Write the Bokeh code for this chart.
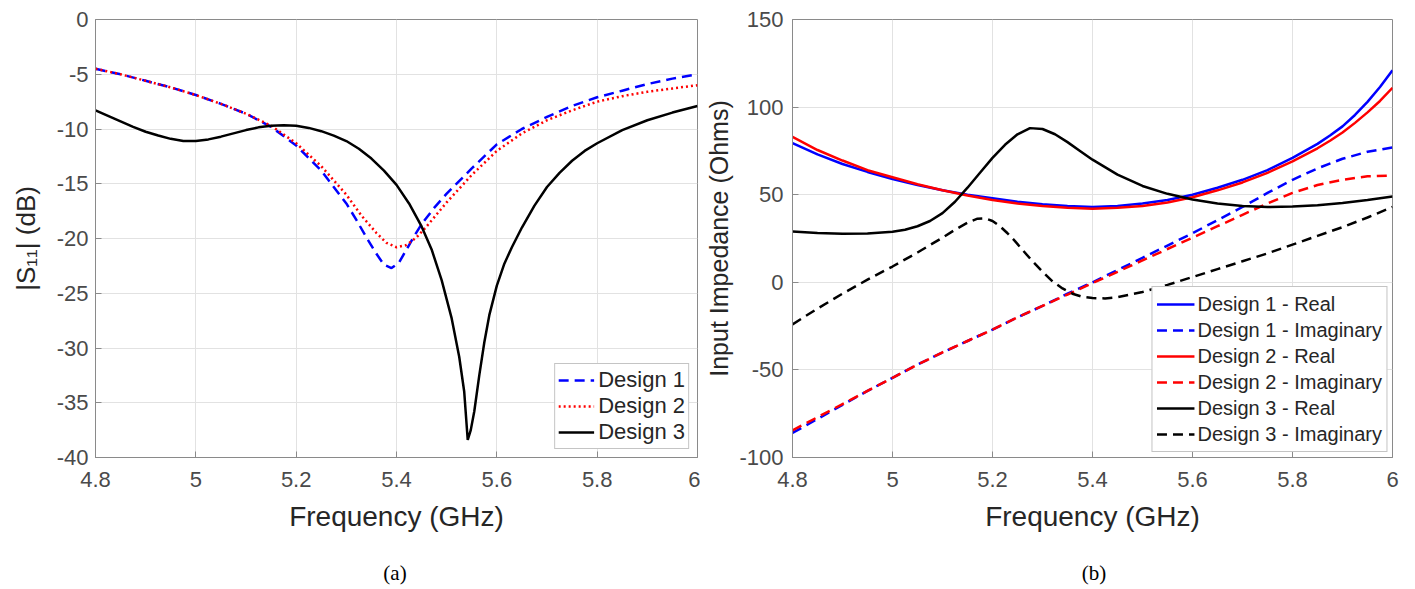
from bokeh.plotting import figure
from bokeh.models import Range1d, Legend, LegendItem, FixedTicker, CustomJSTickFormatter, Div
from bokeh.layouts import row, column
from bokeh.embed import file_html
from bokeh.resources import INLINE

# ---------------- data: (a) |S11| ----------------
s11_d1_f = [4.8, 4.85, 4.9, 4.95, 5.0, 5.05, 5.1, 5.15, 5.2, 5.25, 5.3, 5.32, 5.34, 5.36, 5.375, 5.39,
            5.405, 5.42, 5.435, 5.45, 5.475, 5.5, 5.55, 5.6, 5.65, 5.7, 5.75, 5.8, 5.85, 5.9, 5.95, 6.0]
s11_d1 = [-4.5, -5.0, -5.6, -6.2, -6.9, -7.7, -8.6, -9.8, -11.5, -13.8, -16.8, -18.3, -19.9, -21.4, -22.4, -22.7,
          -22.2, -21.0, -19.8, -18.7, -17.2, -15.9, -13.6, -11.4, -10.0, -8.9, -7.9, -7.1, -6.5, -5.9, -5.4, -5.0]

s11_d2_f = [4.8, 4.85, 4.9, 4.95, 5.0, 5.05, 5.1, 5.15, 5.2, 5.25, 5.3, 5.33, 5.36, 5.38, 5.4, 5.42,
            5.44, 5.46, 5.48, 5.5, 5.55, 5.6, 5.65, 5.7, 5.75, 5.8, 5.85, 5.9, 5.95, 6.0]
s11_d2 = [-4.5, -5.0, -5.6, -6.2, -6.9, -7.7, -8.6, -9.7, -11.3, -13.4, -16.0, -17.9, -19.5, -20.4, -20.8, -20.6,
          -19.9, -18.9, -17.8, -16.7, -14.2, -12.0, -10.4, -9.2, -8.3, -7.5, -7.0, -6.6, -6.3, -6.0]

s11_d3_f = [4.8, 4.825, 4.85, 4.875, 4.9, 4.925, 4.95, 4.975, 5.0, 5.025, 5.05, 5.075, 5.1, 5.125, 5.15,
            5.175, 5.2, 5.225, 5.25, 5.275, 5.3, 5.325, 5.35, 5.375, 5.4, 5.425, 5.45, 5.47, 5.49, 5.51,
            5.525, 5.535, 5.542, 5.548, 5.555, 5.565, 5.575, 5.585, 5.6, 5.615, 5.63, 5.65, 5.675, 5.7,
            5.725, 5.75, 5.775, 5.8, 5.85, 5.9, 5.95, 6.0]
s11_d3 = [-8.3, -8.8, -9.3, -9.8, -10.25, -10.6, -10.9, -11.1, -11.1, -10.95, -10.7, -10.4, -10.1, -9.85, -9.7,
          -9.65, -9.7, -9.9, -10.2, -10.6, -11.1, -11.8, -12.7, -13.8, -15.1, -16.8, -18.9, -21.0, -23.8, -27.3,
          -30.8, -34.0, -38.4, -37.5, -35.8, -32.5, -29.5, -27.0, -24.3, -22.3, -20.8, -19.0, -17.0, -15.3,
          -14.0, -12.9, -12.0, -11.3, -10.1, -9.2, -8.5, -7.9]

# ---------------- data: (b) input impedance ----------------
z_real_f = [4.8, 4.85, 4.9, 4.95, 5.0, 5.05, 5.1, 5.15, 5.2, 5.25, 5.3, 5.35, 5.4, 5.45, 5.5, 5.55,
            5.6, 5.65, 5.7, 5.75, 5.8, 5.85, 5.875, 5.9, 5.925, 5.95, 5.975, 6.0]
z_d1_real = [79.5, 73, 67.5, 63, 59, 55.5, 52.5, 50, 48, 46, 44.5, 43.5, 43, 43.5, 45, 47,
             50, 54, 58.5, 64, 71, 79, 83.8, 89, 95.5, 103, 111.5, 121]
z_d2_real = [83, 75.5, 69.5, 64, 60, 56, 52.5, 49.5, 47, 45, 43.5, 42.5, 42, 42.5, 43.5, 45.5,
             48.5, 52.5, 57, 62.5, 69, 76.5, 80.8, 85.5, 91, 97, 103.5, 111]

z_imag_f = [4.8, 4.85, 4.9, 4.95, 5.0, 5.05, 5.1, 5.15, 5.2, 5.25, 5.3, 5.35, 5.4, 5.45, 5.5, 5.55,
            5.6, 5.65, 5.7, 5.75, 5.8, 5.85, 5.9, 5.95, 6.0]
z_d1_imag = [-86, -78, -70, -62, -54.5, -47, -40, -33.5, -27, -20, -13.5, -6.5, 0, 7, 14, 21,
             28, 35.5, 43, 51, 58.5, 65, 70.5, 74.5, 77]
z_d2_imag = [-84.5, -77, -69.5, -62, -54.5, -47, -40, -33.5, -27, -20, -13.5, -7, -0.5, 6, 12.5, 19,
             25.5, 32, 38.5, 45, 51, 55.5, 58.5, 60.5, 61]

z_d3_real_f = [4.8, 4.85, 4.9, 4.95, 5.0, 5.025, 5.05, 5.075, 5.1, 5.125, 5.15, 5.175, 5.2, 5.225, 5.25,
               5.275, 5.3, 5.325, 5.35, 5.375, 5.4, 5.45, 5.5, 5.55, 5.6, 5.65, 5.7, 5.75, 5.8, 5.85,
               5.9, 5.95, 6.0]
z_d3_real = [29, 28.2, 27.7, 27.8, 28.8, 30, 32, 35, 39.5, 46, 54, 62.5, 71, 78.5, 84.5,
             88, 87.5, 84.5, 80, 75, 70, 61.5, 55, 50.5, 47.3, 45, 43.6, 43, 43.2, 44,
             45.2, 47, 49]
z_d3_imag_f = [4.8, 4.85, 4.9, 4.95, 5.0, 5.05, 5.1, 5.125, 5.15, 5.17, 5.185, 5.2, 5.215, 5.23, 5.245,
               5.26, 5.28, 5.3, 5.32, 5.34, 5.36, 5.38, 5.4, 5.425, 5.45, 5.5, 5.55, 5.6, 5.65, 5.7,
               5.75, 5.8, 5.85, 5.9, 5.95, 6.0]
z_d3_imag = [-24, -15, -6.5, 1.5, 9, 17, 25.5, 30, 34, 36.3, 36.5, 35, 32, 28, 23.5,
             18.5, 12, 6, 0.5, -3.5, -6.5, -8.3, -9, -9.2, -8.5, -5.5, -1.5, 3, 7.5, 12,
             16.5, 21.5, 26.5, 31.5, 37, 43]

# ---------------- ticks / labels ----------------
x_ticks = [4.8, 5.0, 5.2, 5.4, 5.6, 5.8, 6.0]
y_ticks_a = [-40, -35, -30, -25, -20, -15, -10, -5, 0]
y_ticks_b = [-100, -50, 0, 50, 100, 150]
legend_a = ["Design 1", "Design 2", "Design 3"]
legend_b = ["Design 1 - Real", "Design 1 - Imaginary", "Design 2 - Real",
            "Design 2 - Imaginary", "Design 3 - Real", "Design 3 - Imaginary"]
captions = ["(a)", "(b)"]

FONT = "Liberation Sans"
AXC = "#8a8a8a"
TICKC = "#4a4a4a"
LABC = "#262626"


def style(p, yticks, xlabel, ylabel, ylabel_size, ylabel_standoff, ytick_standoff):
    xa = p.xaxis[0]
    ya = p.yaxis[0]
    xa.ticker = FixedTicker(ticks=x_ticks)
    ya.ticker = FixedTicker(ticks=yticks)
    xa.formatter = CustomJSTickFormatter(code="return String(Math.round(tick*10)/10);")
    ya.formatter = CustomJSTickFormatter(code="return String(Math.round(tick));")
    for ax in (xa, ya):
        ax.axis_line_color = AXC
        ax.major_tick_line_color = AXC
        ax.major_tick_in = 6
        ax.major_tick_out = 0
        ax.minor_tick_line_color = None
        ax.major_label_text_font = FONT
        ax.major_label_text_font_size = "22px"
        ax.major_label_text_color = TICKC
        ax.axis_label_text_font = FONT
        ax.axis_label_text_font_style = "normal"
        ax.axis_label_text_color = LABC
    xa.axis_label = xlabel
    ya.axis_label = ylabel
    xa.axis_label_text_font_size = "28px"
    ya.axis_label_text_font_size = ylabel_size
    xa.major_label_standoff = 14
    xa.axis_label_standoff = 11
    ya.major_label_standoff = ytick_standoff
    ya.axis_label_standoff = ylabel_standoff
    p.grid.grid_line_color = "#e2e2e2"
    p.grid.grid_line_width = 1
    p.outline_line_color = AXC
    p.outline_line_alpha = 1
    p.background_fill_color = "white"
    p.border_fill_color = "white"


# ---------------- figure (a) ----------------
p1 = figure(width=700, height=545, x_range=Range1d(4.8, 6.0), y_range=Range1d(-40, 0),
            output_backend="svg", toolbar_location=None,
            min_border_left=95, min_border_right=3, min_border_top=19, min_border_bottom=88)
style(p1, y_ticks_a, "Frequency (GHz)", "|S\u2081\u2081| (dB)", "26px", 13, 7)

r1 = p1.line(s11_d1_f, s11_d1, line_color="#0000ff", line_width=2.5, line_dash="10 6")
r2 = p1.line(s11_d2_f, s11_d2, line_color="#ff0000", line_width=2.5, line_dash="2 3")
r3 = p1.line(s11_d3_f, s11_d3, line_color="black", line_width=2.5)

leg1 = Legend(items=[LegendItem(label=legend_a[i], renderers=[r]) for i, r in enumerate([r1, r2, r3])],
              location="bottom_right", margin=8, padding=3, spacing=0,
              label_text_font=FONT, label_text_font_size="22px", label_text_color=LABC,
              label_height=24, glyph_height=24, glyph_width=36, label_standoff=4,
              border_line_color=AXC, background_fill_color="white", background_fill_alpha=1)
p1.add_layout(leg1)

# ---------------- figure (b) ----------------
p2 = figure(width=713, height=545, x_range=Range1d(4.8, 6.0), y_range=Range1d(-100, 150),
            output_backend="svg", toolbar_location=None,
            min_border_left=92, min_border_right=21, min_border_top=19, min_border_bottom=87)
style(p2, y_ticks_b, "Frequency (GHz)", "Input Impedance (Ohms)", "25px", 3, 9)

b1 = p2.line(z_real_f, z_d1_real, line_color="#0000ff", line_width=2.5)
b2 = p2.line(z_imag_f, z_d1_imag, line_color="#0000ff", line_width=2.5, line_dash="10 6")
b3 = p2.line(z_real_f, z_d2_real, line_color="#ff0000", line_width=2.5)
b4 = p2.line(z_imag_f, z_d2_imag, line_color="#ff0000", line_width=2.5, line_dash="10 6")
b5 = p2.line(z_d3_real_f, z_d3_real, line_color="black", line_width=2.5)
b6 = p2.line(z_d3_imag_f, z_d3_imag, line_color="black", line_width=2.5, line_dash="10 6")

leg2 = Legend(items=[LegendItem(label=legend_b[i], renderers=[r]) for i, r in enumerate([b1, b2, b3, b4, b5, b6])],
              location="bottom_right", margin=5, padding=4, spacing=0,
              label_text_font=FONT, label_text_font_size="20px", label_text_color=LABC,
              label_height=26, glyph_height=26, glyph_width=38, label_standoff=3,
              border_line_color=AXC, background_fill_color="white", background_fill_alpha=1)
p2.add_layout(leg2)

# ---------------- captions ----------------
cap_style = ("display:block;box-sizing:border-box;text-align:center;font-family:'Liberation Serif',serif;"
             "font-size:21px;color:black;padding-top:11px;line-height:24px;")
div_a = Div(text=f'<div style="{cap_style}width:700px;padding-left:80px;">{captions[0]}</div>',
            width=700, height=42)
div_b = Div(text=f'<div style="{cap_style}width:713px;padding-left:45px;">{captions[1]}</div>',
            width=713, height=42)

layout = column(row(p1, p2), row(div_a, div_b))
open("out.html", "w").write(file_html(layout, INLINE))
